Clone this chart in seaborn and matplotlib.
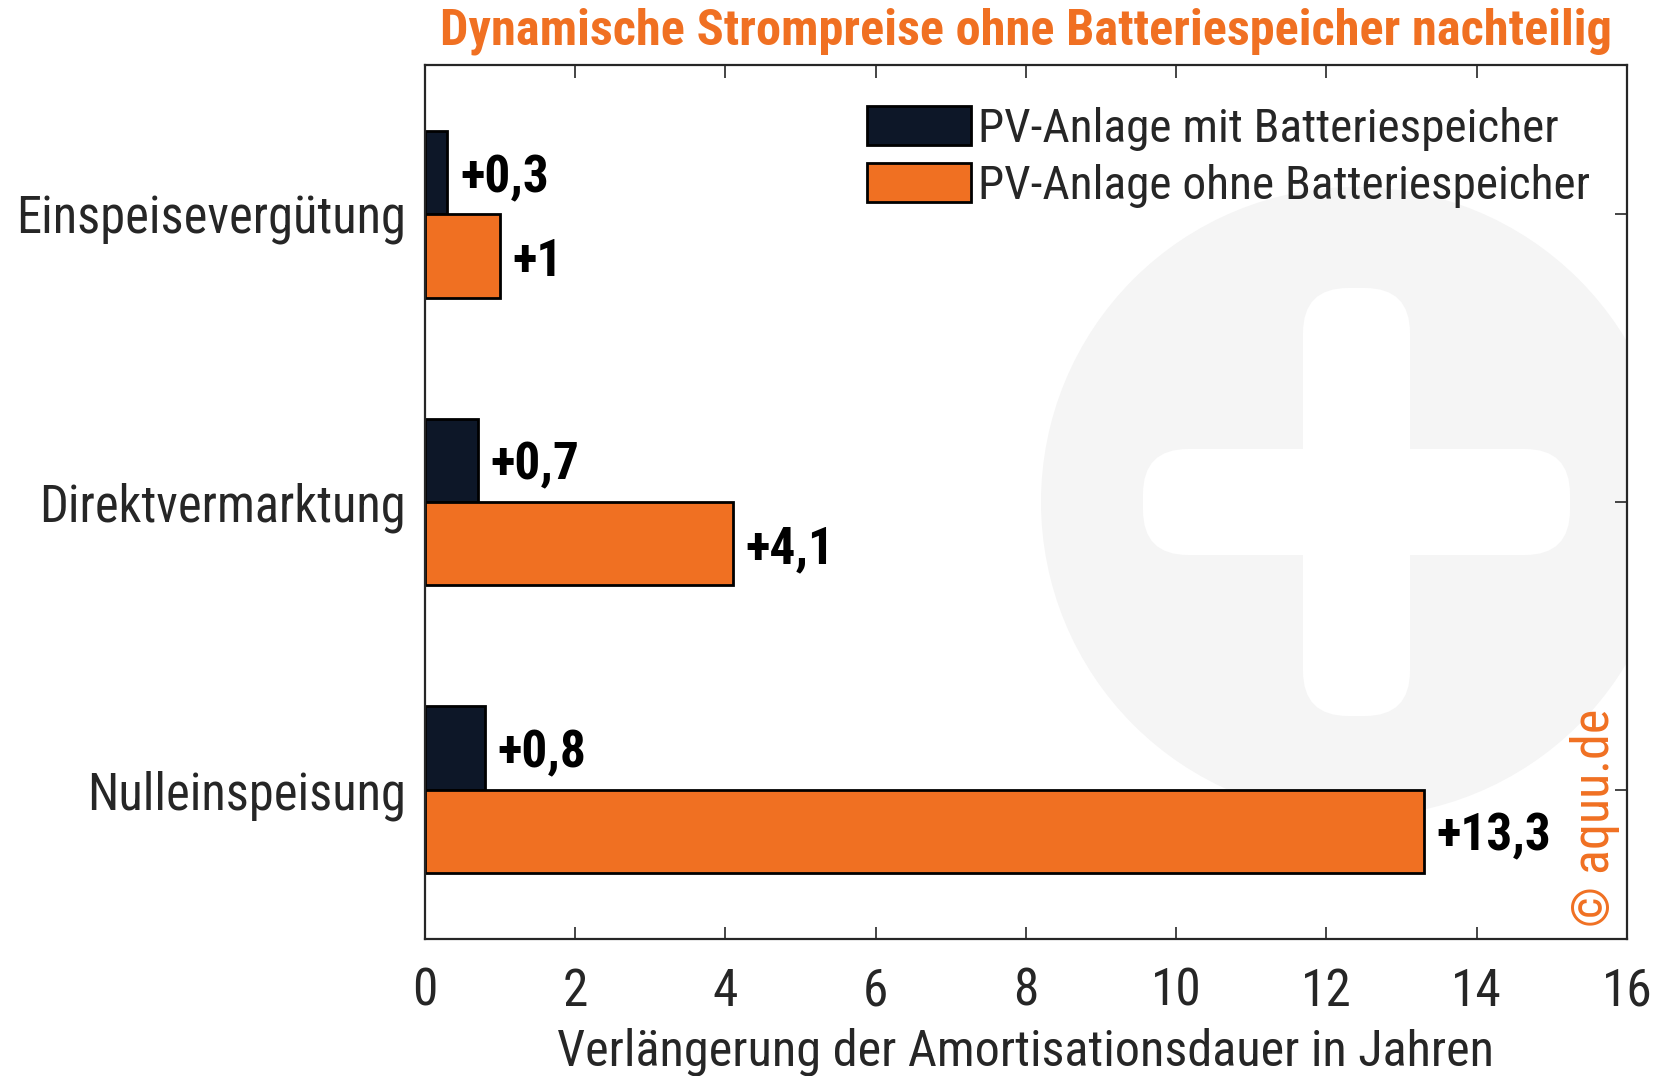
import pandas as pd
import seaborn as sns
import matplotlib.pyplot as plt
from matplotlib.patches import Circle, FancyBboxPatch

# data
categories = ["Einspeisevergütung", "Direktvermarktung", "Nulleinspeisung"]
series = ["PV-Anlage mit Batteriespeicher", "PV-Anlage ohne Batteriespeicher"]
mit_speicher = [0.3, 0.7, 0.8]
ohne_speicher = [1.0, 4.1, 13.3]
x_ticks = [0, 2, 4, 6, 8, 10, 12, 14, 16]

dark = "#0d1728"
orange = "#f07022"

sns.set_theme(style="white")
plt.rcParams['font.family'] = ['Roboto Condensed', 'Liberation Sans Narrow', 'Roboto', 'DejaVu Sans']

df = pd.DataFrame({
    'kategorie': categories * 2,
    'serie': [series[0]] * 3 + [series[1]] * 3,
    'jahre': mit_speicher + ohne_speicher,
})

fig = plt.figure(figsize=(16.75, 10.76), dpi=100)
ax = fig.add_axes([0.2537, 0.1273, 0.7176, 0.8123])

# watermark: grey disc with white plus (clipped to the axes)
disc = Circle((13.56, 5.74), 3.15, transform=fig.dpi_scale_trans,
              facecolor="#f5f5f5", edgecolor="none", zorder=0)
ax.add_patch(disc)
disc.set_clip_path(ax.patch)
r = 0.45
for (x0, y0, w, h) in [(13.03 + r, 3.60 + r, 1.07 - 2 * r, 4.28 - 2 * r),
                       (11.43 + r, 5.21 + r, 4.27 - 2 * r, 1.06 - 2 * r)]:
    p = FancyBboxPatch((x0, y0), w, h, boxstyle=f"round,pad={r}",
                       transform=fig.dpi_scale_trans, facecolor="white",
                       edgecolor="none", zorder=0.5)
    ax.add_patch(p)
    p.set_clip_path(ax.patch)

sns.barplot(data=df, y='kategorie', x='jahre', hue='serie', orient='h',
            palette=[dark, orange], width=0.58, edgecolor='black',
            linewidth=2, saturation=1, ax=ax, zorder=2)

for cont, vals in zip(ax.containers, [mit_speicher, ohne_speicher]):
    labels = ['+' + ('%g' % v).replace('.', ',') for v in vals]
    txts = ax.bar_label(cont, labels=labels, padding=9, fontsize=37,
                        fontweight='bold', color='black')
    for t in txts:
        t.set_va('center_baseline')

ax.set_xlim(0, 16)
ax.set_ylim(2.52, -0.52)
ax.set_xticks(x_ticks)
ax.set_xticklabels([str(t) for t in x_ticks])
ax.set_xlabel("Verlängerung der Amortisationsdauer in Jahren", fontsize=36.2,
              color="#262626", labelpad=8)
ax.set_ylabel("")
ax.tick_params(axis='x', direction='in', top=True, bottom=True, length=9,
               width=1.2, color="#262626", labelsize=37, pad=20,
               labelcolor="#262626")
ax.tick_params(axis='y', direction='in', left=True, right=True, length=9,
               width=1.2, color="#262626", labelsize=36.4, pad=14,
               labelcolor="#262626")
for s in ax.spines.values():
    s.set_visible(True)
    s.set_color("#262626")
    s.set_linewidth(1.6)
    s.set_zorder(5)

leg = ax.legend(loc='upper right', bbox_to_anchor=(0.989, 0.98), frameon=False,
                fontsize=34, handlelength=2.2, handleheight=0.9,
                handletextpad=0.15, labelspacing=0.26, borderpad=0)
for h in leg.legend_handles:
    h.set_edgecolor('black')
    h.set_linewidth(2)

fig.text(0.6125, 0.971, "Dynamische Strompreise ohne Batteriespeicher nachteilig",
         ha='center', va='center', fontsize=36.3, fontweight='bold', color=orange)
fig.text(0.952, 0.24, "© aquu.de", rotation=90, ha='center', va='center',
         fontsize=37.5, color=orange)

fig.savefig("out.png", dpi=100)
